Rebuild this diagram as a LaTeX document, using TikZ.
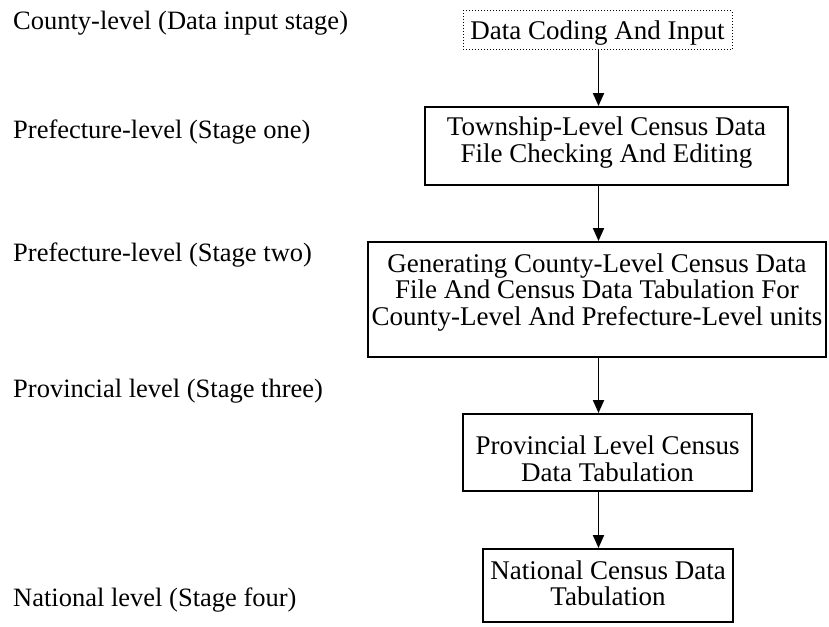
\documentclass[tikz,border=0pt]{standalone}
\usepackage{fontspec}
\setmainfont{Liberation Serif}
\usetikzlibrary{arrows.meta}
\begin{document}
\begin{tikzpicture}[x=1pt,y=-1pt,
  box/.style={draw, line width=1.9pt, inner sep=0pt},
  dotbox/.style={draw, line width=1pt, dotted, inner sep=0pt},
  txt/.style={font=\fontsize{27}{26.5}\selectfont, align=center, inner sep=0pt, anchor=base},
  lab/.style={font=\fontsize{26.5}{26.5}\selectfont, inner sep=0pt, anchor=base west},
  arr/.style={-{Triangle[length=13pt,width=11pt]}, line width=1.9pt}]
\useasboundingbox (0,0) rectangle (829,626);
% boxes
\node[dotbox, minimum width=269pt, minimum height=39pt] (b1) at (597.5,30.5) {};
\node[box, minimum width=363pt, minimum height=78pt] (b2) at (606.5,146) {};
\node[box, minimum width=458pt, minimum height=115pt] (b3) at (597,299.5) {};
\node[box, minimum width=289pt, minimum height=77pt] (b4) at (607.5,452.5) {};
\node[box, minimum width=250pt, minimum height=73pt] (b5) at (608,585.5) {};
% box texts (anchor base = baseline of last line)
\node[txt] (t1) at (597.5,40) {Data Coding And Input};
\node[txt] (t2) at (606.5,162) {Township-Level Census Data\\File Checking And Editing};
\node[txt] (t3) at (597,325) {Generating County-Level Census Data\\File And Census Data Tabulation For\\County-Level And Prefecture-Level units};
\node[txt] (t4) at (607.5,481) {Provincial Level Census\\Data Tabulation};
\node[txt] (t5) at (608,605.5) {National Census Data\\Tabulation};
% left labels
\node[lab] (l1) at (13,30) {County-level (Data input stage)};
\node[lab] (l2) at (13,138) {Prefecture-level (Stage one)};
\node[lab] (l3) at (13,261) {Prefecture-level (Stage two)};
\node[lab] (l4) at (13,397) {Provincial level (Stage three)};
\node[lab] (l5) at (13,606) {National level (Stage four)};
% arrows
\coordinate (ax) at (598.5,0);
\draw[arr] (b1.south -| ax) -- (b2.north -| ax);
\draw[arr] (b2.south -| ax) -- (b3.north -| ax);
\draw[arr] (b3.south -| ax) -- (b4.north -| ax);
\draw[arr] (b4.south -| ax) -- (b5.north -| ax);
\end{tikzpicture}
\end{document}
